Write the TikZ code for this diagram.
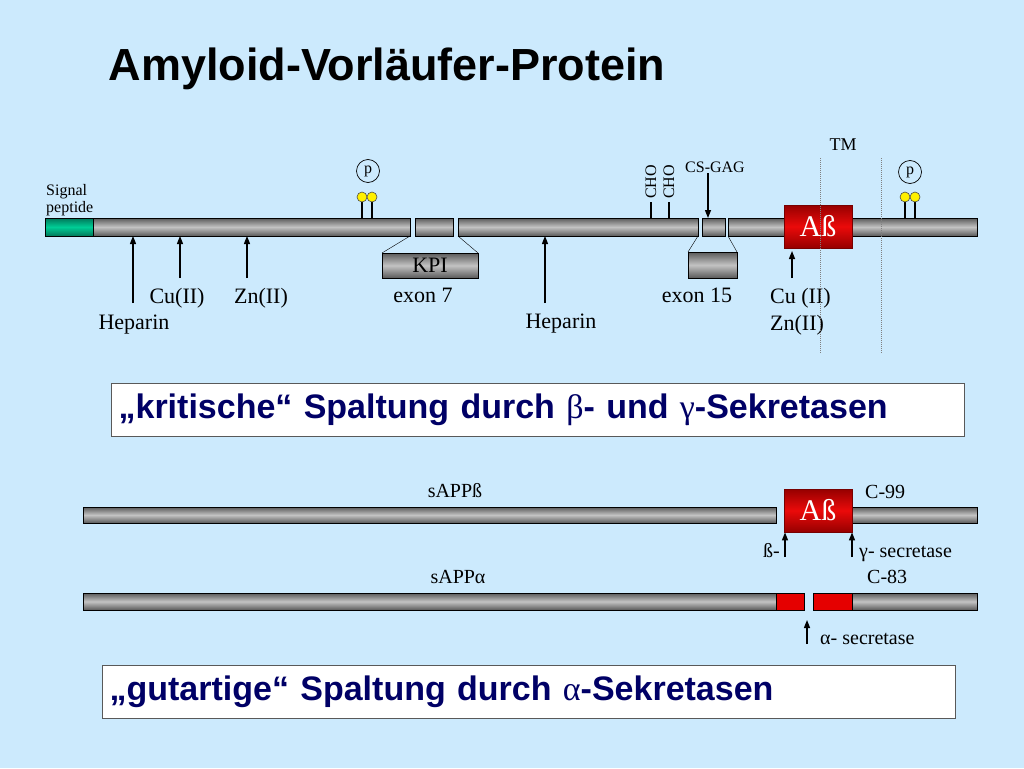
\documentclass[tikz,border=0pt]{standalone}
\usepackage{fontspec}
\setmainfont{Liberation Serif}
\setsansfont{Liberation Sans}
\usetikzlibrary{positioning,arrows.meta}

\definecolor{bgblue}{RGB}{204,234,253}
\definecolor{navy}{RGB}{0,0,102}
\definecolor{bardark}{RGB}{90,90,90}
\definecolor{barlight}{RGB}{195,195,195}
\definecolor{sigdark}{RGB}{0,120,90}
\definecolor{siglight}{RGB}{0,205,150}
\definecolor{abdark}{RGB}{150,0,0}
\definecolor{ablight}{RGB}{235,10,10}
\definecolor{pyellow}{RGB}{255,240,0}

\begin{document}
\begin{tikzpicture}[x=1pt,y=-1pt,
  bar/.style={draw=black,line width=0.8pt,top color=bardark,bottom color=bardark,middle color=barlight,
    inner sep=0pt,outer sep=0pt,anchor=north west,minimum height=18pt},
  sigbar/.style={bar,top color=sigdark,bottom color=sigdark,middle color=siglight},
  redseg/.style={draw=black,line width=0.8pt,fill=red!90!black,inner sep=0pt,outer sep=0pt,
    anchor=north west,minimum height=17pt},
  abeta/.style={draw=abdark!80!black,line width=0.8pt,top color=abdark,bottom color=abdark,middle color=ablight,
    text=white,font=\fontsize{30}{32}\selectfont,inner sep=0pt,minimum width=68pt,minimum height=43pt},
  lbl/.style={font=\fontsize{22}{24}\selectfont,inner sep=2pt},
  lbs/.style={font=\fontsize{20}{22}\selectfont,inner sep=2pt},
  small/.style={font=\fontsize{16}{18}\selectfont,inner sep=1pt},
  arr/.style={-{Triangle[length=8pt,width=6pt]},line width=1.3pt},
  pstem/.style={line width=2.5pt},
  pball/.style={circle,draw=black!70,line width=0.6pt,fill=pyellow,inner sep=0pt,minimum size=10pt},
  pcirc/.style={circle,draw,line width=0.7pt,inner sep=0pt,minimum size=23pt,font=\fontsize{16}{18}\selectfont},
  tmline/.style={densely dotted,gray,line width=1pt},
  banner/.style={draw=gray!70!black,fill=white,line width=1.2pt,anchor=north west,align=left,
    inner xsep=7pt,text width=839pt,minimum height=53pt,text=navy,
    font=\sffamily\bfseries\fontsize{34}{38}\selectfont}]

\fill[bgblue] (0,0) rectangle (1024,768);
\useasboundingbox (0,0) rectangle (1024,768);

\node[anchor=base west,font=\sffamily\bfseries\fontsize{45}{50}\selectfont] (head) at (105,80) {Amyloid-Vorläufer-Protein};

% full protein
\node[sigbar,minimum width=48pt] (sig) at (45,218) {};
\node[bar,minimum width=317pt] (seg1) at (93,218) {};
\node[bar,minimum width=38pt] (seg2) at (415,218) {};
\node[bar,minimum width=240pt] (seg3) at (458,218) {};
\node[bar,minimum width=23pt] (seg4) at (702,218) {};
\node[bar,minimum width=249pt] (seg5) at (728,218) {};
\node[abeta] (ab1) at (818,226.5) {Aß};

\node[bar,minimum width=96pt,minimum height=25pt,font=\fontsize{22}{24}\selectfont] (kpi) at (382,253) {KPI};
\node[bar,minimum width=49pt,minimum height=26pt] (ex15) at (688,252) {};
\draw (seg1.south east) -- (kpi.north west);
\draw (seg3.south west) -- (kpi.north east);
\draw (seg3.south east) -- (ex15.north west);
\draw (seg5.south west) -- (ex15.north east);

\node[small,anchor=base west] (sigl1) at (45,195) {Signal};
\node[small,anchor=base west] (sigl2) at (45,212) {peptide};

% binding sites
\node[lbl,anchor=base] (hep1) at (134,329) {Heparin};
\node[lbl,anchor=base] (cu1) at (177,303) {Cu(II)};
\node[lbl,anchor=base] (zn1) at (261,303) {Zn(II)};
\node[lbl,anchor=base] (ex7) at (423,302) {exon 7};
\node[lbl,anchor=base] (hep2) at (561,328) {Heparin};
\node[lbl,anchor=base] (ex15l) at (697,302) {exon 15};
\node[lbl,anchor=base west] (cu2) at (768,303) {Cu (II)};
\node[lbl,anchor=base west] (zn2) at (768,330) {Zn(II)};

\coordinate (hepA) at (133,303);
\coordinate (cuA) at (180,278);
\coordinate (znA) at (247,278);
\coordinate (hepB) at (545,303);
\coordinate (cuB) at (792,278);
\draw[arr] (hepA) -- (hepA |- seg1.south);
\draw[arr] (cuA) -- (cuA |- seg1.south);
\draw[arr] (znA) -- (znA |- seg1.south);
\draw[arr] (hepB) -- (hepB |- seg3.south);
\draw[arr] (cuB) -- ++(0,-27);

% phosphorylation
\foreach \x in {362,372} {
  \draw[pstem] (\x,198) -- (\x,198 |- seg1.north);
  \node[pball] (pa\x) at (\x,197) {};
}
\node[pcirc] (p1) at (368,171) {p};
\foreach \x in {905,915} {
  \draw[pstem] (\x,198) -- (\x,198 |- seg5.north);
  \node[pball] (pb\x) at (\x,197) {};
}
\node[pcirc] (p2) at (910,172) {p};

% glycosylation
\foreach \x in {651,669} {
  \draw[pstem] (\x,202) -- (\x,202 |- seg3.north);
  \node[small,rotate=90,anchor=west] (cho\x) at (\x,200) {CHO};
}
\node[small,anchor=base] (gag) at (715,172) {CS-GAG};
\draw[arr] ([xshift=-7pt]gag.south) -- ([xshift=-7pt]gag.south |- seg4.north);

\node[small,font=\fontsize{18}{20}\selectfont,anchor=base] (tm) at (843,150) {TM};
\draw[tmline] (820,158) -- (820,353);
\draw[tmline] (881,158) -- (881,353);

\node[banner] (crit) at (111,383) {„kritische“ Spaltung durch {\rmfamily\mdseries β}- und {\rmfamily\mdseries γ}-Sekretasen};

% beta/gamma cleavage
\node[bar,minimum width=693pt,minimum height=16pt] (sb1) at (83,507) {};
\node[bar,minimum width=125pt,minimum height=16pt] (sb2) at (852,507) {};
\node[abeta] (ab2) at (818,510.5) {Aß};
\node[lbs,anchor=base] (sappb) at (455,497) {sAPPß};
\node[lbs,anchor=base west] (c99) at (863,498) {C-99};
\coordinate (bsec) at (785,557);
\coordinate (gsec) at (852,557);
\draw[arr] (bsec) -- (bsec |- ab2.south);
\draw[arr] (gsec) -- (gsec |- ab2.south);
\node[lbs,anchor=base east] (bl) at (782,557) {ß-};
\node[lbs,anchor=base west] (gl) at (857,557) {γ- secretase};

% alpha cleavage
\node[bar,minimum width=693pt,minimum height=17pt] (sa1) at (83,593) {};
\node[redseg,minimum width=28pt] (ra) at (776,593) {};
\node[redseg,minimum width=39pt] (rb) at (813,593) {};
\node[bar,minimum width=125pt,minimum height=17pt] (sa2) at (852,593) {};
\node[lbs,anchor=base] (sappa) at (458,583) {sAPPα};
\node[lbs,anchor=base west] (c83) at (865,583) {C-83};
\coordinate (asec) at (807,644);
\draw[arr] (asec) -- ++(0,-24);
\node[lbs,anchor=base west] (al) at (818,644) {α- secretase};

\node[banner] (gut) at (102,665) {„gutartige“ Spaltung durch {\rmfamily\mdseries α}-Sekretasen};

\end{tikzpicture}
\end{document}
